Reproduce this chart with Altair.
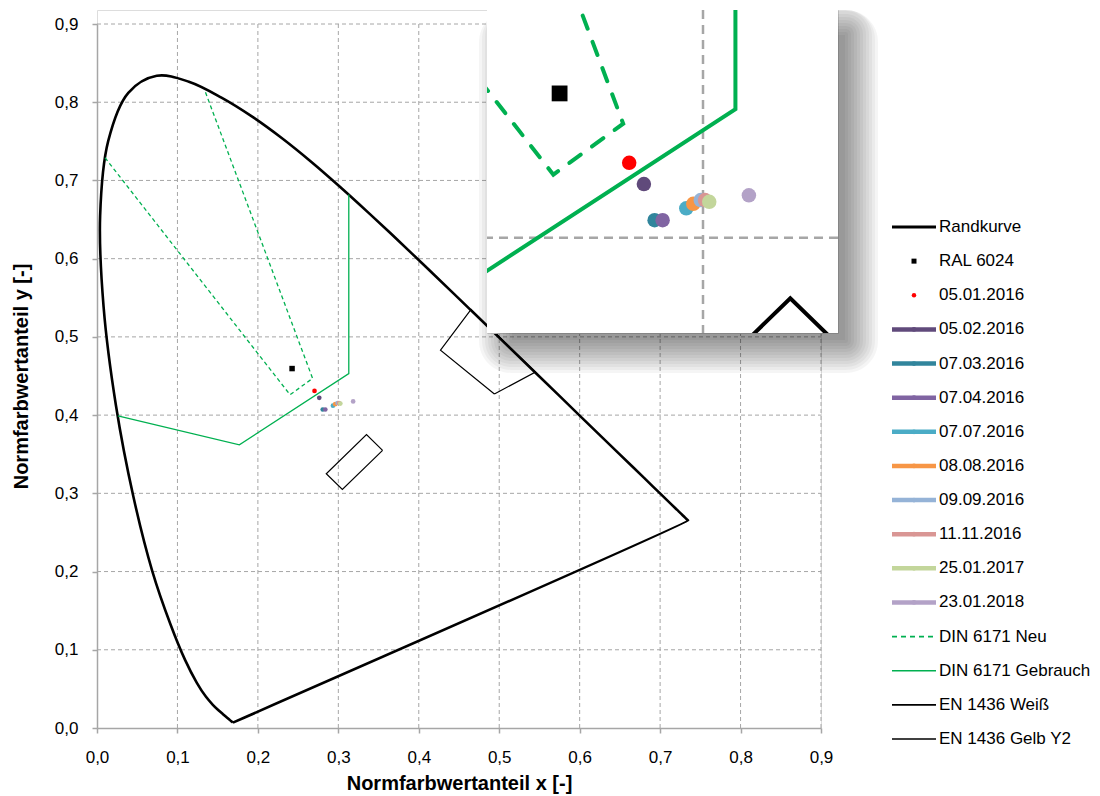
import altair as alt
import pandas as pd

# ---------------- data ----------------
# Randkurve (spectral locus), 430 ... 700 nm
locus_x = [0.1689, 0.1669, 0.1644, 0.1611, 0.1566, 0.1510, 0.1440, 0.1355, 0.1241, 0.1096,
           0.0913, 0.0687, 0.0454, 0.0235, 0.0082, 0.0039, 0.0139, 0.0389, 0.0743, 0.1142,
           0.1547, 0.1929, 0.2296, 0.2658, 0.3016, 0.3373, 0.3731, 0.4087, 0.4441, 0.4788,
           0.5125, 0.5448, 0.5752, 0.6029, 0.6270, 0.6482, 0.6658, 0.6801, 0.6915, 0.7006,
           0.7079, 0.7140, 0.7190, 0.7230, 0.7260, 0.7283, 0.7300, 0.7311, 0.7320, 0.7327,
           0.7334, 0.7340, 0.7344, 0.7346, 0.7347]
locus_y = [0.0069, 0.0086, 0.0109, 0.0138, 0.0177, 0.0227, 0.0297, 0.0399, 0.0578, 0.0868,
           0.1327, 0.2007, 0.2950, 0.4127, 0.5384, 0.6548, 0.7502, 0.8120, 0.8338, 0.8262,
           0.8059, 0.7816, 0.7543, 0.7243, 0.6923, 0.6589, 0.6245, 0.5896, 0.5547, 0.5202,
           0.4866, 0.4544, 0.4242, 0.3965, 0.3725, 0.3514, 0.3340, 0.3197, 0.3083, 0.2993,
           0.2920, 0.2859, 0.2809, 0.2770, 0.2740, 0.2717, 0.2700, 0.2689, 0.2680, 0.2673,
           0.2666, 0.2660, 0.2656, 0.2654, 0.2653]

ral_x = [0.2425]
ral_y = [0.4595]

dates = ["05.01.2016", "05.02.2016", "07.03.2016", "07.04.2016", "07.07.2016",
         "08.08.2016", "09.09.2016", "11.11.2016", "25.01.2017", "23.01.2018"]
meas_x = [0.2704, 0.2763, 0.2806, 0.2838, 0.2933, 0.2961, 0.2991, 0.3008, 0.3025, 0.3184]
meas_y = [0.4309, 0.4221, 0.4072, 0.4072, 0.4121, 0.4140, 0.4155, 0.4155, 0.4148, 0.4175]
date_colors = ["#FF0000", "#604A7B", "#31859C", "#8064A2", "#4BACC6",
               "#F79646", "#95B3D7", "#D99694", "#C3D69B", "#B3A2C7"]

din_neu_x = [0.010, 0.240, 0.268, 0.134]
din_neu_y = [0.729, 0.426, 0.447, 0.815]
din_geb_x = [0.026, 0.177, 0.313, 0.313]
din_geb_y = [0.399, 0.362, 0.453, 0.682]
en_weiss_x = [0.355, 0.305, 0.285, 0.335, 0.355]
en_weiss_y = [0.355, 0.305, 0.325, 0.375, 0.355]
en_gelb_x = [0.494, 0.545, 0.465, 0.427, 0.494]
en_gelb_y = [0.427, 0.455, 0.535, 0.483, 0.427]

ticks = [0.0, 0.1, 0.2, 0.3, 0.4, 0.5, 0.6, 0.7, 0.8, 0.9]

legend_names = ["Randkurve", "RAL 6024"] + dates + [
    "DIN 6171 Neu", "DIN 6171 Gebrauch", "EN 1436 Weiß", "EN 1436 Gelb Y2"]

# ---------------- styles ----------------
GREEN = "#00B050"
GRID = "#A6A6A6"
FONT = "Liberation Sans"
LAB = "replace(format(datum.value, '.1f'), '.', ',')"


def poly(px, py):
    return pd.DataFrame({"x": px, "y": py, "i": list(range(len(px)))})


locus_df = poly(locus_x + locus_x[:1], locus_y + locus_y[:1])
neu_df = poly(din_neu_x, din_neu_y)
geb_df = poly(din_geb_x, din_geb_y)
weiss_df = poly(en_weiss_x, en_weiss_y)
gelb_df = poly(en_gelb_x, en_gelb_y)
ral_df = pd.DataFrame({"x": ral_x, "y": ral_y})
meas_df = pd.DataFrame({"x": meas_x, "y": meas_y, "name": dates, "col": date_colors,
                        "k": list(range(len(dates)))})
grid_df = pd.DataFrame({"v": ticks[1:], "lo": 0.0, "hi": 0.9})
one = pd.DataFrame({"a": [0]})

# ---------------- main chart ----------------
xs = alt.Scale(domain=[0, 0.9], nice=False, zero=False)
ys = alt.Scale(domain=[0, 0.9], range=[718, 14], nice=False, zero=False)


def X(f="x"):
    return alt.X(f"{f}:Q", scale=xs, axis=None)


def Y(f="y"):
    return alt.Y(f"{f}:Q", scale=ys, axis=None)


axis_common = dict(values=ticks, labelExpr=LAB, grid=False, domainColor=GRID, domainWidth=1.5,
                   tickColor=GRID, tickWidth=1.5, tickSize=5, labelFont=FONT, labelFontSize=17,
                   labelColor="#000000", labelFlush=False, titleFont=FONT, titleFontSize=20,
                   titleFontWeight="bold", titleColor="#000000", labelOverlap=False)

vgrid = alt.Chart(grid_df).mark_rule(color=GRID, strokeDash=[4, 3], strokeWidth=1).encode(
    x=alt.X("v:Q", scale=xs, axis=alt.Axis(title="Normfarbwertanteil x [-]", orient="bottom",
                                            labelPadding=16, titlePadding=8, **axis_common)),
    y=alt.Y("lo:Q", scale=ys, axis=alt.Axis(title="Normfarbwertanteil y [-]", orient="left",
                                             labelPadding=14, titlePadding=23, **axis_common)),
    y2="hi:Q",
)
hgrid = alt.Chart(grid_df).mark_rule(color=GRID, strokeDash=[4, 3], strokeWidth=1).encode(
    x=X("lo"), x2="hi:Q", y=Y("v"))

locus = alt.Chart(locus_df).mark_line(color="black", strokeWidth=2.6, interpolate="catmull-rom").encode(
    x=X(), y=Y(), order="i:Q")
ral = alt.Chart(ral_df).mark_square(color="black", size=30, opacity=1).encode(x=X(), y=Y())
meas = alt.Chart(meas_df).mark_circle(size=22, opacity=1).encode(
    x=X(), y=Y(), color=alt.Color("col:N", scale=None), order="k:Q")
neu = alt.Chart(neu_df).mark_line(color=GREEN, strokeWidth=1.3, strokeDash=[4, 3]).encode(
    x=X(), y=Y(), order="i:Q")
geb = alt.Chart(geb_df).mark_line(color=GREEN, strokeWidth=1.3).encode(x=X(), y=Y(), order="i:Q")
weiss = alt.Chart(weiss_df).mark_line(color="black", strokeWidth=1.2).encode(x=X(), y=Y(), order="i:Q")
gelb = alt.Chart(gelb_df).mark_line(color="black", strokeWidth=1.2).encode(x=X(), y=Y(), order="i:Q")

# ---------------- legend (drawn beside the plot) ----------------
leg_line_names = ["Randkurve"] + dates[1:] + ["DIN 6171 Gebrauch", "EN 1436 Weiß", "EN 1436 Gelb Y2"]
leg_line_cols = ["black"] + date_colors[1:] + [GREEN, "black", "black"]
leg_line_w = [3] + [4.5] * 9 + [1.6, 1.6, 1.6]
leg_lines_df = pd.DataFrame({"name": leg_line_names, "col": leg_line_cols, "w": leg_line_w})
leg_dots_df = pd.DataFrame({"name": dates[1:], "col": date_colors[1:]})
leg_text_df = pd.DataFrame({"name": legend_names})

LY = alt.Y("name:N", scale=alt.Scale(type="point", domain=legend_names, range=[217, 729], padding=0),
           axis=None)
LX0, LX1, LXT = 795, 839, 842

leg_lines = alt.Chart(leg_lines_df).mark_rule().encode(
    x=alt.value(LX0), x2=alt.value(LX1), y=LY,
    color=alt.Color("col:N", scale=None), strokeWidth=alt.StrokeWidth("w:Q", scale=None))
leg_dash = alt.Chart(pd.DataFrame({"name": ["DIN 6171 Neu"]})).mark_rule(
    color=GREEN, strokeWidth=1.6, strokeDash=[5, 4]).encode(x=alt.value(LX0), x2=alt.value(LX1), y=LY)
leg_dots = alt.Chart(leg_dots_df).mark_circle(size=22, opacity=1).encode(
    x=alt.value((LX0 + LX1) / 2), y=LY, color=alt.Color("col:N", scale=None))
leg_sq = alt.Chart(pd.DataFrame({"name": ["RAL 6024"]})).mark_square(color="black", size=25, opacity=1).encode(
    x=alt.value((LX0 + LX1) / 2), y=LY)
leg_red = alt.Chart(pd.DataFrame({"name": ["05.01.2016"]})).mark_circle(color="#FF0000", size=20, opacity=1).encode(
    x=alt.value((LX0 + LX1) / 2), y=LY)
leg_text = alt.Chart(leg_text_df).mark_text(align="left", baseline="middle", font=FONT, fontSize=17,
                                             color="#000000").encode(
    x=alt.value(LXT), y=LY, text="name:N")

main = alt.layer(
    vgrid, hgrid, locus, ral, meas, neu, geb, weiss, gelb,
    leg_lines, leg_dash, leg_dots, leg_sq, leg_red, leg_text,
).resolve_scale(x="independent", y="independent").properties(width=724, height=718)

# ---------------- inset (magnified detail) ----------------
W_I, H_I = 351, 323
ixs = alt.Scale(domain=[0.21339, 0.35413], nice=False, zero=False)
iys = alt.Scale(domain=[0.36070, 0.49390], nice=False, zero=False)


def IX(f="x"):
    return alt.X(f"{f}:Q", scale=ixs, axis=None)


def IY(f="y"):
    return alt.Y(f"{f}:Q", scale=iys, axis=None)


SHX, SHY = 16, 16
shadow = []
for e in [-9, -6, -3, 0, 3, 6, 9, 12, 15, 18, 21, 24]:
    shadow.append(alt.Chart(one).mark_rect(color="black", opacity=0.04, clip=False,
                                           cornerRadius=max(e + 8, 0)).encode(
        x=alt.value(SHX - e), x2=alt.value(W_I + SHX + e),
        y=alt.value(max(SHY - e, 0)), y2=alt.value(H_I + SHY + e)))
bg = alt.Chart(one).mark_rect(color="white", clip=False).encode(
    x=alt.value(0), x2=alt.value(W_I), y=alt.value(0), y2=alt.value(H_I))

ivgrid = alt.Chart(pd.DataFrame({"v": [0.3]})).mark_rule(
    color=GRID, strokeWidth=2.5, strokeDash=[9, 6], clip=True).encode(x=IX("v"))
ihgrid = alt.Chart(pd.DataFrame({"v": [0.4]})).mark_rule(
    color=GRID, strokeWidth=2.5, strokeDash=[9, 6], clip=True).encode(y=IY("v"))
ilocus = alt.Chart(locus_df).mark_line(color="black", strokeWidth=4, clip=True,
                                       interpolate="catmull-rom").encode(x=IX(), y=IY(), order="i:Q")
iral = alt.Chart(ral_df).mark_square(color="black", size=250, opacity=1, clip=True).encode(x=IX(), y=IY())
imeas = alt.Chart(meas_df).mark_circle(size=210, opacity=1, clip=True).encode(
    x=IX(), y=IY(), color=alt.Color("col:N", scale=None), order="k:Q")
ineu = alt.Chart(neu_df).mark_line(color=GREEN, strokeWidth=4, strokeDash=[14, 14], strokeCap="round",
                                   clip=True).encode(x=IX(), y=IY(), order="i:Q")
igeb = alt.Chart(geb_df).mark_line(color=GREEN, strokeWidth=4, clip=True).encode(x=IX(), y=IY(), order="i:Q")
iweiss = alt.Chart(weiss_df).mark_line(color="black", strokeWidth=4, clip=True).encode(
    x=IX(), y=IY(), order="i:Q")
igelb = alt.Chart(gelb_df).mark_line(color="black", strokeWidth=4, clip=True).encode(
    x=IX(), y=IY(), order="i:Q")

inset = alt.layer(
    *shadow, bg, ivgrid, ihgrid, ilocus, iral, imeas, ineu, igeb, iweiss, igelb
).properties(width=W_I, height=H_I)

chart = alt.concat(main, inset, columns=2, spacing=-334, bounds="flush", align="none").properties(
    padding={"left": 2, "top": 1, "right": 0, "bottom": 0}
).configure_view(stroke=None).configure(font=FONT)

chart.save("out.html", embed_options={"renderer": "svg", "actions": False})
